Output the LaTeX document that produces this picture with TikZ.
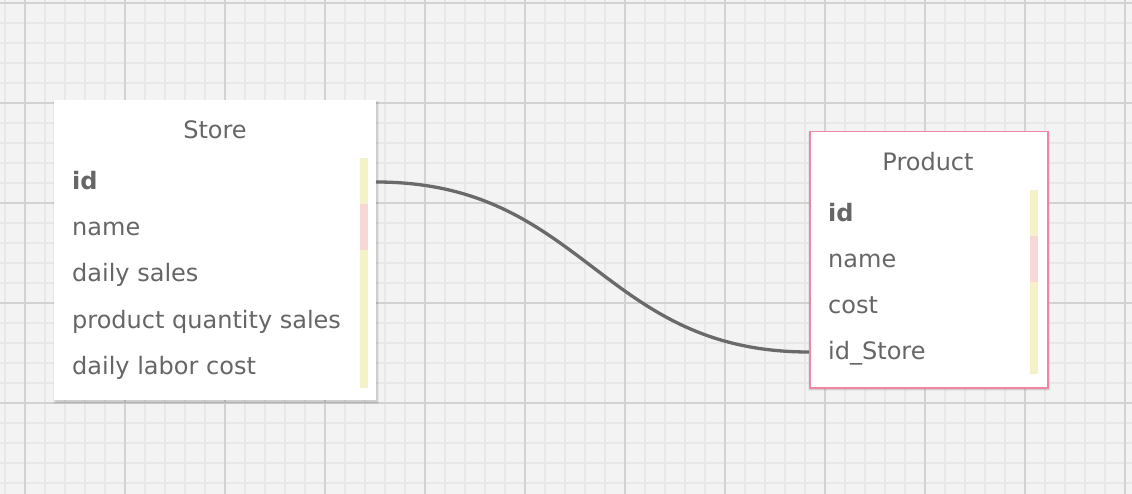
\documentclass[tikz,border=0pt]{standalone}
\usepackage{fontspec}
\setmainfont{DejaVu Sans}
\definecolor{bgc}{HTML}{F3F3F3}
\definecolor{minorc}{HTML}{E8E8E8}
\definecolor{majorc}{HTML}{D2D2D2}
\definecolor{txt}{HTML}{666666}
\definecolor{pinkb}{HTML}{EE86A4}
\definecolor{baryel}{HTML}{F4F2C9}
\definecolor{barpink}{HTML}{F8D7D7}
\definecolor{linkc}{HTML}{6A6A6A}
\tikzset{
  ent/.style={fill=white},
  shad/.style={fill=black,opacity=0.10},
  rowtxt/.style={anchor=base west,inner sep=0pt,text=txt,font=\fontsize{24}{28}\selectfont},
  titletxt/.style={anchor=base,inner sep=0pt,text=txt,font=\fontsize{24}{28}\selectfont},
  link/.style={draw=linkc,line width=3.3pt},
}
\begin{document}
\begin{tikzpicture}[x=1pt,y=-1pt]
\useasboundingbox (0,0) rectangle (1132,494);
\fill[bgc] (0,0) rectangle (1132,494);
% minor grid
\foreach \x in {5,25,...,1125} \draw[minorc,line width=2pt] (\x,0) -- (\x,494);
\foreach \y in {3,23,...,493} \draw[minorc,line width=2pt] (0,\y) -- (1132,\y);
% major grid
\foreach \x in {25,125,...,1125} \draw[majorc,line width=2.5pt] (\x,0) -- (\x,494);
\foreach \y in {3,103,...,493} \draw[majorc,line width=2.5pt] (0,\y) -- (1132,\y);
% Store entity
\fill[shad] (55,102) rectangle (378,402.5);
\fill[black,opacity=0.05] (53,101) rectangle (379,404);
\node[ent,draw=none,minimum width=322pt,minimum height=300pt,inner sep=0pt,anchor=north west] (store) at (54,100) {};
\fill[baryel] (360,158) rectangle (368,204);
\fill[barpink] (360,204) rectangle (368,250);
\fill[baryel] (360,250) rectangle (368,388);
\node[titletxt] (storeT) at (215,138.3) {Store};
\node[rowtxt] (sid) at (72,190) {\bfseries id};
\node[rowtxt] (sname) at (72,236) {name};
\node[rowtxt] (sdaily) at (72,282) {daily sales};
\node[rowtxt] (spq) at (72,328) {product quantity sales};
\node[rowtxt] (slabor) at (72,374) {daily labor cost};
\coordinate (sidR) at (376,182);
% Product entity
\fill[shad] (810,133) rectangle (1049,389.5);
\fill[black,opacity=0.05] (808,132) rectangle (1050,391);
\node[ent,draw=pinkb,line width=1.5pt,minimum width=238pt,minimum height=256pt,inner sep=0pt,anchor=north west] (prod) at (809,131) {};
\fill[baryel] (1030,190) rectangle (1038,236);
\fill[barpink] (1030,236) rectangle (1038,282);
\fill[baryel] (1030,282) rectangle (1038,374);
\node[titletxt] (prodT) at (928,170.7) {Product};
\node[rowtxt] (pid) at (828,221.7) {\bfseries id};
\node[rowtxt] (pname) at (828,267.7) {name};
\node[rowtxt] (pcost) at (828,313.7) {cost};
\node[rowtxt] (pids) at (828,359.7) {id\_Store};
\coordinate (pidsL) at (809,352);
% connector
\draw[link] (sidR) .. controls (585,182) and (600,352) .. (pidsL);
\end{tikzpicture}
\end{document}
